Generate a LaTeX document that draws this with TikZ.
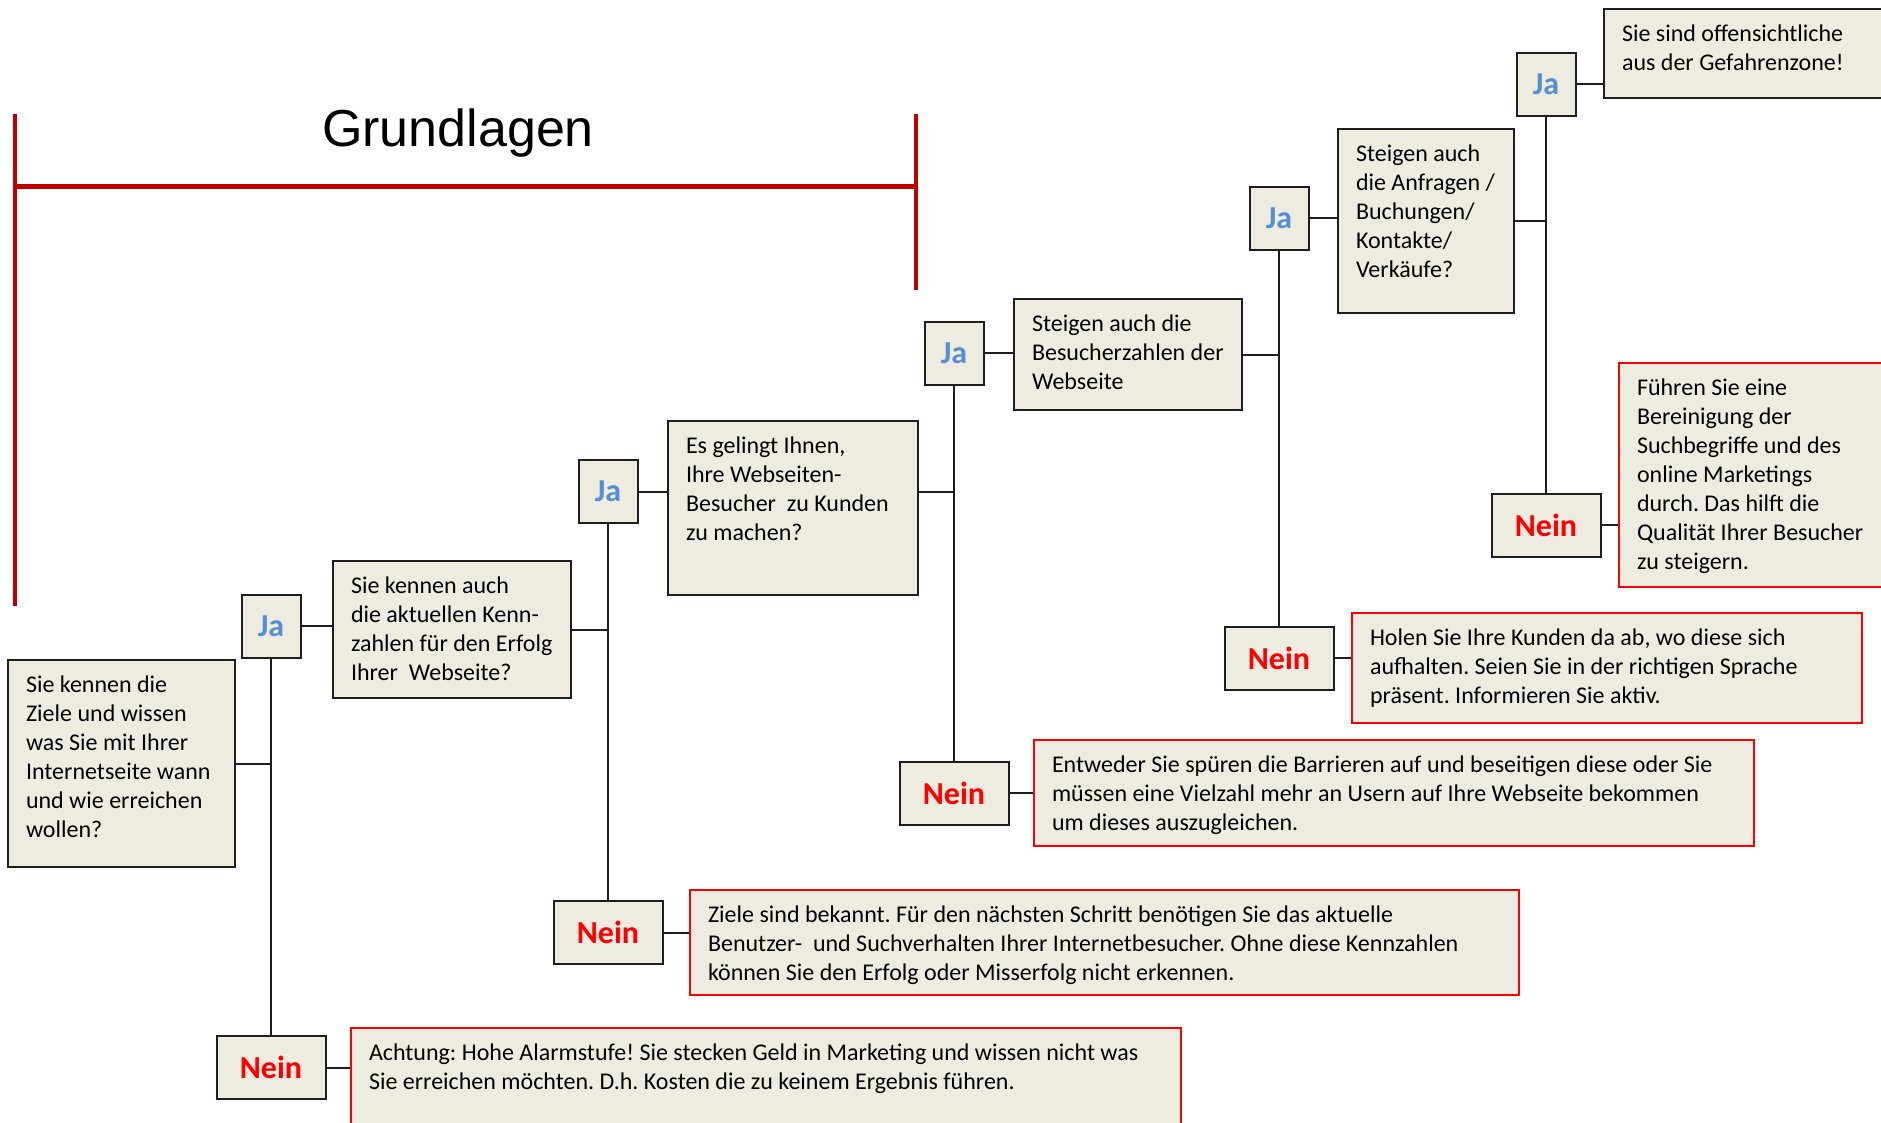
\documentclass[tikz,border=0pt]{standalone}
\usepackage{fontspec}
\setmainfont{Carlito}
\newfontfamily\arialf{Liberation Sans}
\frenchspacing
\definecolor{boxfill}{HTML}{EEECE1}
\definecolor{boxline}{HTML}{1E1E1E}
\definecolor{jablue}{HTML}{558ED5}
\definecolor{neinred}{HTML}{FF0000}
\definecolor{brackred}{HTML}{C00000}
\newcommand{\btxt}[3]{\parbox[c][\dimexpr#2pt-25pt\relax][t]{\dimexpr#1pt-36pt\relax}{\frenchspacing\begin{tabular}[t]{@{}l@{}}#3\end{tabular}}}
\tikzset{
  qbox/.style={draw=boxline, fill=boxfill, line width=2pt, inner xsep=18pt, inner ysep=12.5pt, anchor=north west, font=\fontsize{24}{29}\selectfont},
  abox/.style={qbox, draw=neinred},
  jabox/.style={draw=boxline, fill=boxfill, line width=2pt, inner sep=0pt, minimum height=63pt, minimum width=59pt, text=jablue, font=\fontsize{32}{36}\selectfont\bfseries},
  neinbox/.style={jabox, minimum width=109pt, text=neinred},
  conn/.style={draw=boxline, line width=2pt},
  brack/.style={draw=brackred, line width=4pt}
}
\begin{document}
\begin{tikzpicture}[x=1pt,y=-1pt]
\useasboundingbox (0,0) rectangle (1881,1122);
% bracket
\coordinate (bl1) at (15,114);
\coordinate (bl2) at (15,606);
\coordinate (br1) at (916,114);
\coordinate (br2) at (916,290);
\draw[brack] (bl1) -- (bl2);
\draw[brack] (br1) -- (br2);
\draw[brack, line width=5pt] (bl1 |- 0,186) -- (br1 |- 0,186);
\node[anchor=base, font=\arialf\fontsize{52}{60}\selectfont] (title) at (458,146) {Grundlagen};

% question boxes
\node[qbox] (q1) at (7,659) {\btxt{227}{207}{Sie kennen die\\Ziele und wissen\\was Sie mit Ihrer\\Internetseite wann\\und wie erreichen\\wollen?}};
\node[qbox] (q2) at (332,560) {\btxt{238}{137}{Sie kennen auch\\die aktuellen Kenn-\\zahlen für den Erfolg\\Ihrer\ \ Webseite?}};
\node[qbox] (q3) at (667,420) {\btxt{250}{174}{Es gelingt Ihnen,\\Ihre Webseiten-\\Besucher\ \ zu Kunden\\zu machen?}};
\node[qbox] (q4) at (1013,298) {\btxt{228}{111}{Steigen auch die\\Besucherzahlen der\\Webseite}};
\node[qbox] (q5) at (1337,128) {\btxt{176}{184}{Steigen auch\\die Anfragen /\\Buchungen/\\Kontakte/\\Verkäufe?}};
\node[qbox] (q6) at (1603,8) {\btxt{300}{89}{Sie sind offensichtliche\\aus der Gefahrenzone!}};

% answer boxes
\node[abox] (a1) at (350,1027) {\btxt{830}{130}{Achtung: Hohe Alarmstufe! Sie stecken Geld in Marketing und wissen nicht was\\Sie erreichen möchten. D.h. Kosten die zu keinem Ergebnis führen.}};
\node[abox] (a2) at (689,889) {\btxt{829}{105}{Ziele sind bekannt. Für den nächsten Schritt benötigen Sie das aktuelle\\Benutzer-\ \ und Suchverhalten Ihrer Internetbesucher. Ohne diese Kennzahlen\\können Sie den Erfolg oder Misserfolg nicht erkennen.}};
\node[abox] (a3) at (1033,739) {\btxt{720}{106}{Entweder Sie spüren die Barrieren auf und beseitigen diese oder Sie\\müssen eine Vielzahl mehr an Usern auf Ihre Webseite bekommen\\um dieses auszugleichen.}};
\node[abox] (a4) at (1351,612) {\btxt{510}{110}{Holen Sie Ihre Kunden da ab, wo diese sich\\aufhalten. Seien Sie in der richtigen Sprache\\präsent. Informieren Sie aktiv.}};
\node[abox] (a5) at (1618,362) {\btxt{290}{224}{Führen Sie eine\\Bereinigung der\\Suchbegriffe und des\\online Marketings\\durch. Das hilft die\\Qualität Ihrer Besucher\\zu steigern.}};

% Ja / Nein boxes
\node[jabox] (ja1) at (271,626) {Ja};
\node[jabox] (ja2) at (608,491.5) {Ja};
\node[jabox] (ja3) at (954,353) {Ja};
\node[jabox] (ja4) at (1279,218) {Ja};
\node[jabox] (ja5) at (1546,84) {Ja};
\node[neinbox] (n1) at (271,1067.5) {Nein};
\node[neinbox] (n2) at (608,932.5) {Nein};
\node[neinbox] (n3) at (954,793) {Nein};
\node[neinbox] (n4) at (1279,658) {Nein};
\node[neinbox] (n5) at (1546,525) {Nein};

% vertical trunks
\draw[conn] (ja1.south) -- (n1.north);
\draw[conn] (ja2.south) -- (n2.north);
\draw[conn] (ja3.south) -- (n3.north);
\draw[conn] (ja4.south) -- (n4.north);
\draw[conn] (ja5.south) -- (n5.north);
% question to trunk
\draw[conn] (q1.east) -- (q1.east -| ja1.south);
\draw[conn] (q2.east) -- (q2.east -| ja2.south);
\draw[conn] (ja2.east -| q3.east) -- (ja2.east -| ja3.south);
\draw[conn] (q4.east) -- (q4.east -| ja4.south);
\draw[conn] (q5.east) -- (q5.east -| ja5.south);
% ja to question
\draw[conn] (ja1.east) -- (ja1.east -| q2.west);
\draw[conn] (ja2.east) -- (ja2.east -| q3.west);
\draw[conn] (ja3.east) -- (ja3.east -| q4.west);
\draw[conn] (ja4.east) -- (ja4.east -| q5.west);
\draw[conn] (ja5.east) -- (ja5.east -| q6.west);
% nein to answer
\draw[conn] (n1.east) -- (n1.east -| a1.west);
\draw[conn] (n2.east) -- (n2.east -| a2.west);
\draw[conn] (n3.east) -- (n3.east -| a3.west);
\draw[conn] (n4.east) -- (n4.east -| a4.west);
\draw[conn] (n5.east) -- (n5.east -| a5.west);
\end{tikzpicture}
\end{document}
